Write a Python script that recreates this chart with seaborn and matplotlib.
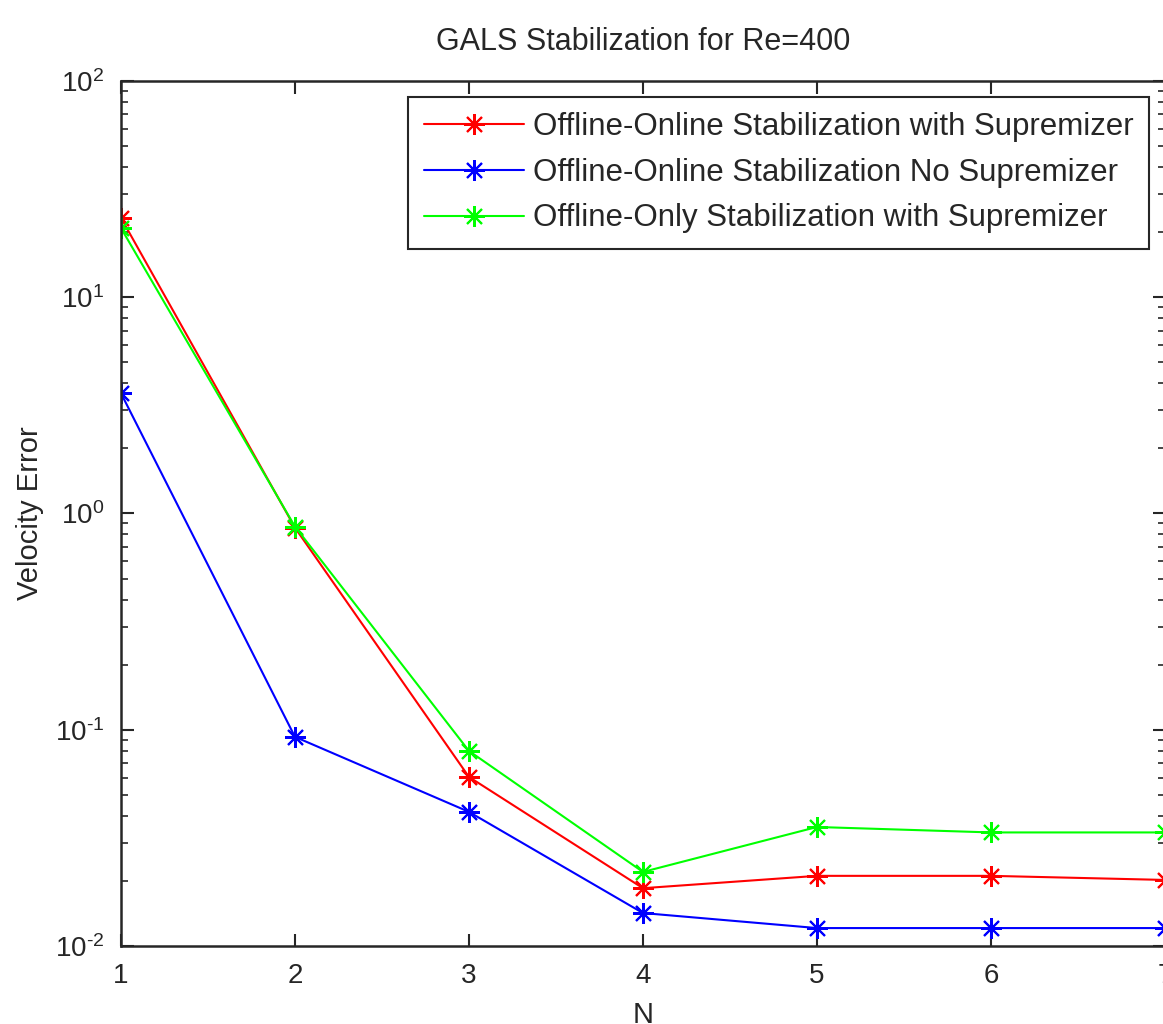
import numpy as np
import pandas as pd
import matplotlib
matplotlib.use("Agg")
import matplotlib.pyplot as plt
import seaborn as sns
from matplotlib.ticker import LogLocator, FixedLocator, FuncFormatter

N = [1, 2, 3, 4, 5, 6, 7]
red_vals = [23.3, 0.86, 0.0605, 0.0185, 0.0211, 0.0211, 0.0202]
blue_vals = [3.6, 0.0927, 0.0417, 0.0142, 0.0121, 0.0121, 0.0121]
green_vals = [20.9, 0.87, 0.0798, 0.0220, 0.0355, 0.0335, 0.0335]
labels = ["Offline-Online Stabilization with Supremizer",
          "Offline-Online Stabilization No Supremizer",
          "Offline-Only Stabilization with Supremizer"]
colors = ["#ff0000", "#0000ff", "#00ff00"]
title = "GALS Stabilization for Re=400"
xlabel = "N"
ylabel = "Velocity Error"

sns.set_style("ticks")
plt.rcParams['font.family'] = ['Liberation Sans', 'DejaVu Sans']
plt.rcParams['mathtext.fontset'] = 'custom'
plt.rcParams['mathtext.rm'] = 'Liberation Sans'
plt.rcParams['axes.unicode_minus'] = False

fig = plt.figure(figsize=(11.63, 10.24), dpi=100)
ax = fig.add_axes([0.104, 0.0762, 0.8977, 0.8447])

for vals, lab, c in zip([red_vals, blue_vals, green_vals], labels, colors):
    df = pd.DataFrame({"N": N, "err": vals})
    sns.lineplot(data=df, x="N", y="err", ax=ax, color=c, label=lab,
                 marker=(8, 2, 0), markersize=15, markeredgecolor=c,
                 markerfacecolor=c, markeredgewidth=1.5, linewidth=1.5)

ax.set_yscale("log")
ax.set_xlim(1, 7)
ax.set_ylim(1e-2, 1e2)
ax.xaxis.set_major_locator(FixedLocator(N))
ax.yaxis.set_major_locator(LogLocator(base=10, numticks=10))
ax.yaxis.set_minor_locator(LogLocator(base=10, subs=np.arange(2, 10), numticks=20))


def fmt(v, pos):
    e = int(round(np.log10(v)))
    if e < 0:
        return r"$\mathdefault{10^{\text{-}%d}}$" % abs(e)
    return r"$\mathdefault{10^{%d}}$" % e


ax.yaxis.set_major_formatter(FuncFormatter(fmt))

ax.tick_params(which="both", direction="in", top=True, right=True, color="#262626")
ax.tick_params(which="major", length=9, width=1.5, labelsize=20, pad=12)
ax.tick_params(which="minor", length=5, width=1.2)
for s in ax.spines.values():
    s.set_linewidth(1.8)
    s.set_color("#262626")

ax.set_title(title, fontsize=22, pad=22)
ax.set_xlabel(xlabel, fontsize=21, labelpad=9)
ax.set_ylabel(ylabel, fontsize=21, labelpad=8)

leg = ax.legend(loc="upper right", fontsize=22.5, frameon=True, fancybox=False,
                edgecolor="#262626", framealpha=1, handlelength=3.2,
                handletextpad=0.3, borderaxespad=0.5, borderpad=0.5,
                labelspacing=0.5)
leg.get_frame().set_linewidth(1.5)

fig.savefig("out.png", dpi=100)
